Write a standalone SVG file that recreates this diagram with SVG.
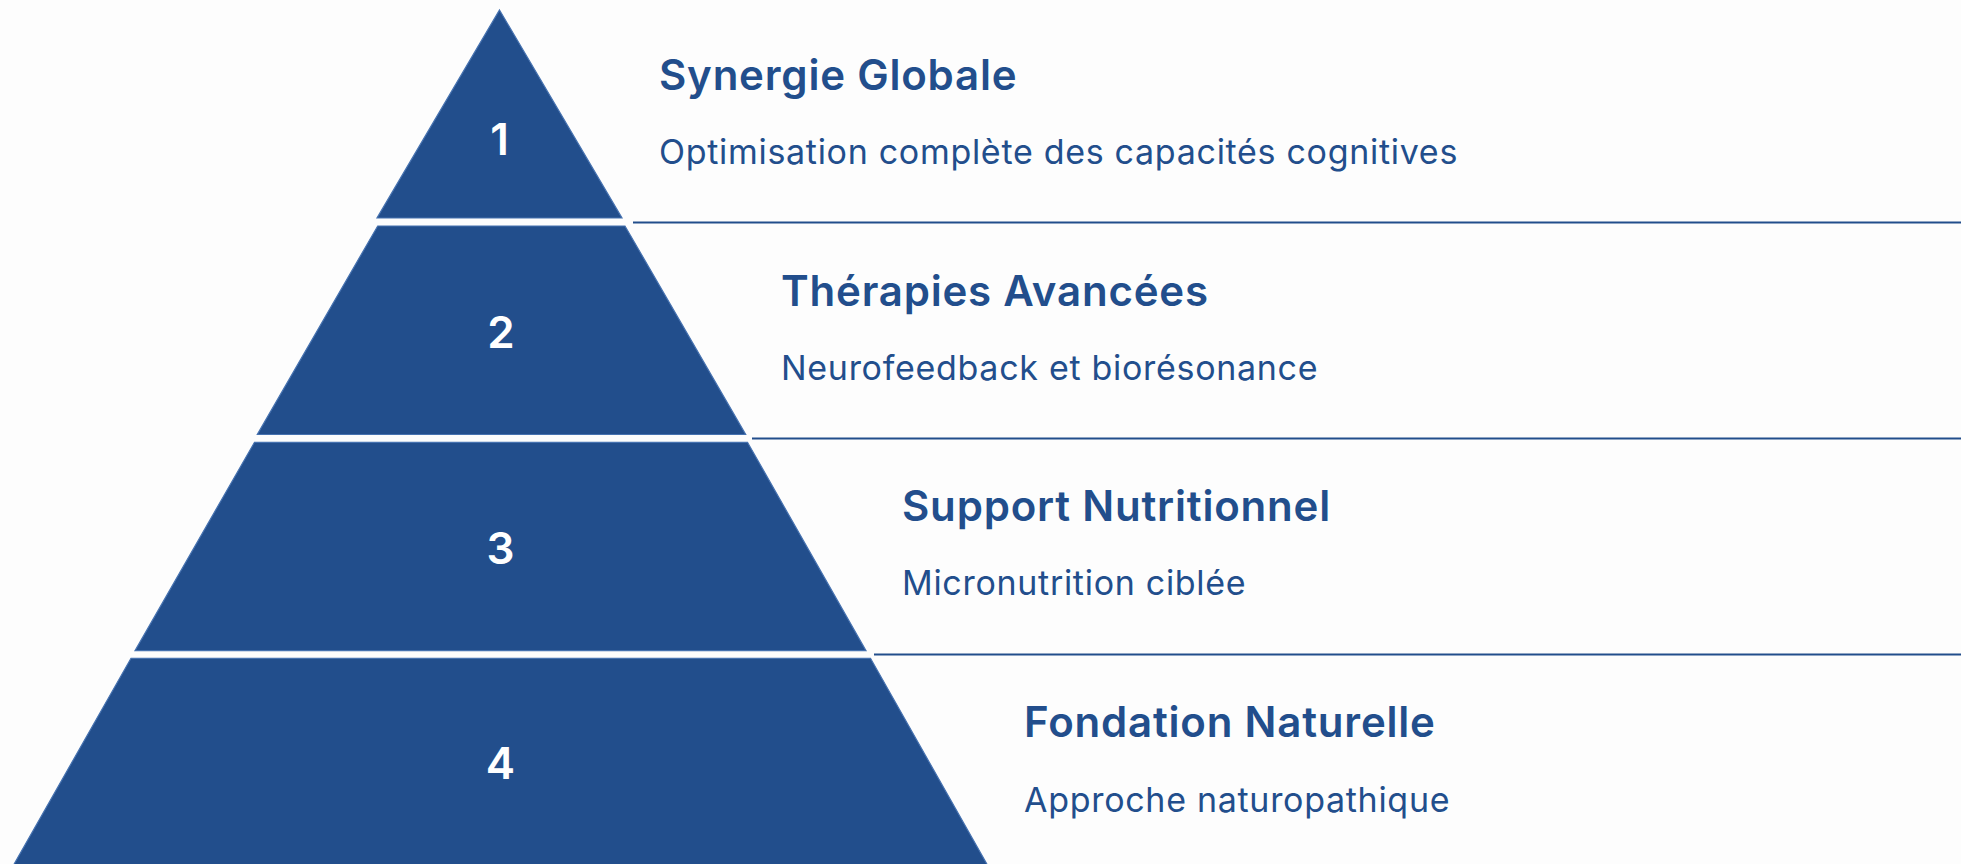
<svg xmlns="http://www.w3.org/2000/svg" width="1961" height="864" viewBox="0 0 1961 864">
  <style>
    .tier { fill: #224e8c; stroke: #4672b0; stroke-width: 1.2; stroke-linejoin: miter; }
    .num { font-family: Inter, "Liberation Sans", sans-serif; font-weight: 600; font-size: 44px; fill: #ffffff; text-anchor: middle; }
    .title { font-family: Inter, "Liberation Sans", sans-serif; font-weight: 600; font-size: 42px; letter-spacing: 0.8px; fill: #224e8c; }
    .sub { font-family: Inter, "Liberation Sans", sans-serif; font-weight: 400; font-size: 34px; letter-spacing: 0.7px; fill: #224e8c; }
    .rule { stroke: #224e8c; stroke-width: 2; fill: none; }
  </style>

  <rect x="0" y="0" width="1961" height="864" fill="#fdfdfd"/>

  <!-- separator rules between levels -->
  <g id="connectors">
    <line class="rule" x1="633" y1="222.5" x2="1961" y2="222.5"/>
    <line class="rule" x1="752" y1="438.5" x2="1961" y2="438.5"/>
    <line class="rule" x1="874" y1="654.5" x2="1961" y2="654.5"/>
  </g>

  <!-- level 1 : apex -->
  <g id="level-1">
    <polygon class="tier" points="499.5,10 622,218 377,218"/>
    <text class="num" x="499.5" y="154.5">1</text>
    <text class="title" x="659" y="89.5">Synergie Globale</text>
    <text class="sub" x="659" y="163.5">Optimisation complète des capacités cognitives</text>
  </g>

  <!-- level 2 -->
  <g id="level-2">
    <polygon class="tier" points="377.7,226 625,226 745.7,434.5 257.3,434.5"/>
    <text class="num" x="501" y="347.5">2</text>
    <text class="title" x="781" y="305.5">Thérapies Avancées</text>
    <text class="sub" x="781" y="379.5">Neurofeedback et biorésonance</text>
  </g>

  <!-- level 3 -->
  <g id="level-3">
    <polygon class="tier" points="254.5,442.3 747.5,442.3 866,650.7 135,650.7"/>
    <text class="num" x="500.5" y="563.5">3</text>
    <text class="title" x="902" y="521">Support Nutritionnel</text>
    <text class="sub" x="902" y="595">Micronutrition ciblée</text>
  </g>

  <!-- level 4 : base -->
  <g id="level-4">
    <polygon class="tier" points="131,658.3 870.5,658.3 988,866 13,866"/>
    <text class="num" x="500.5" y="779">4</text>
    <text class="title" x="1024" y="736.5">Fondation Naturelle</text>
    <text class="sub" x="1024" y="811.5">Approche naturopathique</text>
  </g>
</svg>
